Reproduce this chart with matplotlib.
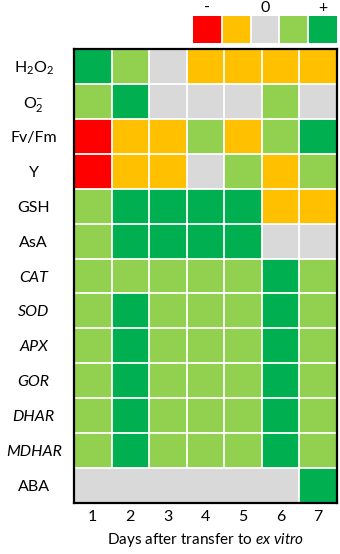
import numpy as np
import matplotlib
matplotlib.use("Agg")
import matplotlib.pyplot as plt
from matplotlib.colors import ListedColormap, BoundaryNorm

plt.rcParams['font.family'] = ['Lato', 'DejaVu Sans']
plt.rcParams['mathtext.fontset'] = 'custom'
plt.rcParams['mathtext.rm'] = 'Lato'
plt.rcParams['mathtext.it'] = 'Lato:italic'

# ---- data ----
row_labels = [r'$\mathregular{H_2O_2}$', r'$\mathregular{O_2^{-}}$', 'Fv/Fm', 'Y', 'GSH', 'AsA',
              'CAT', 'SOD', 'APX', 'GOR', 'DHAR', 'MDHAR', 'ABA']
italic_rows = ['CAT', 'SOD', 'APX', 'GOR', 'DHAR', 'MDHAR']
merged_rows = ['ABA']
days = ['1', '2', '3', '4', '5', '6', '7']
# -2 = strong decrease (red), -1 decrease (orange), 0 no change (grey),
#  1 increase (light green), 2 strong increase (green)
values = [
    [2, 1, 0, -1, -1, -1, -1],
    [1, 2, 0, 0, 0, 1, 0],
    [-2, -1, -1, 1, -1, 1, 2],
    [-2, -1, -1, 0, 1, -1, 1],
    [1, 2, 2, 2, 2, -1, -1],
    [1, 2, 2, 2, 2, 0, 0],
    [1, 1, 1, 1, 1, 2, 1],
    [1, 2, 1, 1, 1, 2, 1],
    [1, 2, 1, 1, 1, 2, 1],
    [1, 2, 1, 1, 1, 2, 1],
    [1, 2, 1, 1, 1, 2, 1],
    [1, 2, 1, 1, 1, 2, 1],
    [0, 0, 0, 0, 0, 0, 2],
]
legend_levels = [-2, -1, 0, 1, 2]
legend_labels = ['-', '', '0', '', '+']
colors = ['#FF0000', '#FFC000', '#D9D9D9', '#92D050', '#00B050']
xlabel_text = r'Days after transfer to $\mathit{ex\ vitro}$'

cmap = ListedColormap(colors)
norm = BoundaryNorm(np.arange(-2.5, 3.0, 1.0), cmap.N)
data = np.array(values)
nr, nc = data.shape

fig = plt.figure(figsize=(3.40, 5.54), dpi=100)
ax = fig.add_axes([74/340, 1-503/554, 263/340, 454/554])
ax.pcolormesh(np.arange(nc + 1), np.arange(nr + 1), data, cmap=cmap, norm=norm)
ax.set_xlim(0, nc)
ax.set_ylim(nr, 0)

gridc = 'white'
glw = 1.3
for i in range(1, nr):
    ax.axhline(i, color=gridc, lw=glw)
for r in range(nr):
    name = row_labels[r]
    for j in range(1, nc):
        if name in merged_rows and data[r, j] == data[r, j - 1]:
            continue
        ax.vlines(j, r, r + 1, color=gridc, lw=glw)

for s in ax.spines.values():
    s.set_linewidth(1.6)
    s.set_color('black')
    s.set_zorder(5)

ax.set_xticks(np.arange(nc) + 0.5)
ax.set_xticklabels(days, fontsize=11.5)
ax.set_yticks(np.arange(nr) + 0.5)
ax.set_yticklabels(row_labels, fontsize=11.5, ha='center')
for lab in ax.get_yticklabels():
    if lab.get_text() in italic_rows:
        lab.set_fontstyle('italic')
ax.tick_params(axis='y', length=0, pad=29)
ax.tick_params(axis='x', length=0, pad=5)
ax.set_xlabel(xlabel_text, fontsize=11, labelpad=5)

# legend
lax = fig.add_axes([193/340, 1-43/554, 144/340, 27/554])
ld = np.array([legend_levels])
lax.pcolormesh(np.arange(len(legend_levels) + 1), [0, 1], ld, cmap=cmap, norm=norm)
for j in range(1, len(legend_levels)):
    lax.axvline(j, color='white', lw=1.3)
lax.set_xlim(0, len(legend_levels))
lax.set_ylim(0, 1)
for s in lax.spines.values():
    s.set_visible(False)
lax.xaxis.tick_top()
lax.set_xticks(np.arange(len(legend_levels)) + 0.5)
lax.set_xticklabels(legend_labels, fontsize=11.5)
lax.set_yticks([])
lax.tick_params(axis='x', length=0, pad=1)

fig.savefig('out.png', dpi=100)
